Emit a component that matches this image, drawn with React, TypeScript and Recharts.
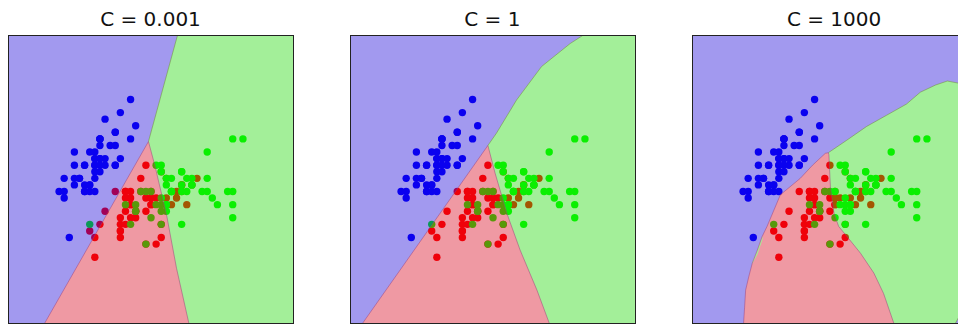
import { ScatterChart, Scatter, ComposedChart, Area, Line, XAxis, YAxis } from "recharts";

// iris: sepal length (x) vs sepal width (y)
const SETOSA = [
  [5.1, 3.5], [4.9, 3.0], [4.7, 3.2], [4.6, 3.1], [5.0, 3.6], [5.4, 3.9], [4.6, 3.4], [5.0, 3.4], [4.4, 2.9], [4.9, 3.1],
  [5.4, 3.7], [4.8, 3.4], [4.8, 3.0], [4.3, 3.0], [5.8, 4.0], [5.7, 4.4], [5.4, 3.9], [5.1, 3.5], [5.7, 3.8], [5.1, 3.8],
  [5.4, 3.4], [5.1, 3.7], [4.6, 3.6], [5.1, 3.3], [4.8, 3.4], [5.0, 3.0], [5.0, 3.4], [5.2, 3.5], [5.2, 3.4], [4.7, 3.2],
  [4.8, 3.1], [5.4, 3.4], [5.2, 4.1], [5.5, 4.2], [4.9, 3.1], [5.0, 3.2], [5.5, 3.5], [4.9, 3.6], [4.4, 3.0], [5.1, 3.4],
  [5.0, 3.5], [4.5, 2.3], [4.4, 3.2], [5.0, 3.5], [5.1, 3.8], [4.8, 3.0], [5.1, 3.8], [4.6, 3.2], [5.3, 3.7], [5.0, 3.3],
];
const VERSICOLOR = [
  [7.0, 3.2], [6.4, 3.2], [6.9, 3.1], [5.5, 2.3], [6.5, 2.8], [5.7, 2.8], [6.3, 3.3], [4.9, 2.4], [6.6, 2.9], [5.2, 2.7],
  [5.0, 2.0], [5.9, 3.0], [6.0, 2.2], [6.1, 2.9], [5.6, 2.9], [6.7, 3.1], [5.6, 3.0], [5.8, 2.7], [6.2, 2.2], [5.6, 2.5],
  [5.9, 3.2], [6.1, 2.8], [6.3, 2.5], [6.1, 2.8], [6.4, 2.9], [6.6, 3.0], [6.8, 2.8], [6.7, 3.0], [6.0, 2.9], [5.7, 2.6],
  [5.5, 2.4], [5.5, 2.4], [5.8, 2.7], [6.0, 2.7], [5.4, 3.0], [6.0, 3.4], [6.7, 3.1], [6.3, 2.3], [5.6, 3.0], [5.5, 2.5],
  [5.5, 2.6], [6.1, 3.0], [5.8, 2.6], [5.0, 2.3], [5.6, 2.7], [5.7, 3.0], [5.7, 2.9], [6.2, 2.9], [5.1, 2.5], [5.7, 2.8],
];
const VIRGINICA = [
  [6.3, 3.3], [5.8, 2.7], [7.1, 3.0], [6.3, 2.9], [6.5, 3.0], [7.6, 3.0], [4.9, 2.5], [7.3, 2.9], [6.7, 2.5], [7.2, 3.6],
  [6.5, 3.2], [6.4, 2.7], [6.8, 3.0], [5.7, 2.5], [5.8, 2.8], [6.4, 3.2], [6.5, 3.0], [7.7, 3.8], [7.7, 2.6], [6.0, 2.2],
  [6.9, 3.2], [5.6, 2.8], [7.7, 2.8], [6.3, 2.7], [6.7, 3.3], [7.2, 3.2], [6.2, 2.8], [6.1, 3.0], [6.4, 2.8], [7.2, 3.0],
  [7.4, 2.8], [7.9, 3.8], [6.4, 2.8], [6.3, 2.8], [6.1, 2.6], [7.7, 3.0], [6.3, 3.4], [6.4, 3.1], [6.0, 3.0], [6.9, 3.1],
  [6.7, 3.1], [6.9, 3.1], [5.8, 2.7], [6.8, 3.2], [6.7, 3.3], [6.7, 3.0], [6.3, 2.5], [6.5, 3.0], [6.2, 3.4], [5.9, 3.0],
];

const TITLES = ["C = 0.001", "C = 1", "C = 1000"];

const X_RANGE = [3.3, 8.88];
const Y_RANGE = [1.0, 5.38];

// decision boundaries, [x, y] in data units
// greenTop: upper edge of the green region, redTop: upper edge of the red region
const P1_GREEN_TOP = [[6.05, 3.76], [6.62, 5.38], [8.88, 5.38]];
const P1_RED_TOP = [[4.02, 1.0], [6.05, 3.76], [6.18, 3.38], [6.41, 2.62], [6.6, 1.83], [6.84, 1.0]];

const P2_GREEN_TOP = [[6.0, 3.7], [6.17, 3.89], [6.56, 4.39], [7.05, 4.9], [7.61, 5.25], [7.87, 5.38], [8.88, 5.38]];
const P2_RED_TOP = [[3.55, 1.0], [6.0, 3.7], [6.14, 3.28], [6.37, 2.67], [6.63, 2.11], [6.96, 1.5], [7.2, 1.0]];

const P3_GREEN_TOP = [
  [5.97, 3.59], [6.33, 3.78], [6.72, 3.99], [7.11, 4.16], [7.5, 4.33], [7.77, 4.51],
  [8.07, 4.62], [8.3, 4.68], [8.5, 4.65], [8.67, 4.56], [8.88, 4.45],
];
const P3_RED_TOP = [
  [4.31, 1.0], [4.33, 1.24], [4.35, 1.5], [4.41, 1.7], [4.48, 1.91], [4.58, 2.11], [4.67, 2.31], [4.77, 2.47],
  [5.03, 2.95], [5.42, 3.2], [5.66, 3.4], [5.91, 3.58], [5.97, 3.59], [5.98, 3.56], [6.01, 3.07], [6.08, 2.67],
  [6.17, 2.47], [6.34, 2.31], [6.6, 2.06], [6.86, 1.76], [7.05, 1.45], [7.25, 1.0],
];
const P3_BLUE_LOW = [[8.46, 1.0], [8.67, 1.3], [8.88, 1.6]];
const P3_GREEN_SLIVER = [[4.48, 1.9, 1.92], [4.58, 2.04, 2.11], [4.68, 2.27, 2.32]];

const W = 285;
const H = 288;
const PANEL_LEFT = [0, 341.8, 683.6];
const REGION_ALPHA = 0.4;

const toXY = (pts: number[][]) => pts.map(([x, y]) => ({ x, y }));
const toRange = (pts: number[][]) => pts.map(([x, lo, hi]) => ({ x, lo, hi }));

const PANELS = [
  { greenTop: P1_GREEN_TOP, redTop: P1_RED_TOP, blueLow: [], sliver: [] },
  { greenTop: P2_GREEN_TOP, redTop: P2_RED_TOP, blueLow: [], sliver: [] },
  { greenTop: P3_GREEN_TOP, redTop: P3_RED_TOP, blueLow: P3_BLUE_LOW, sliver: P3_GREEN_SLIVER },
];

const dot = (color: string) => (props: any) => <circle cx={props.cx} cy={props.cy} r={3.7} fill={color} />;

const noMargin = { top: 0, right: 0, bottom: 0, left: 0 };

function Axes() {
  return [
    <XAxis key="x" type="number" dataKey="x" domain={X_RANGE} hide allowDataOverflow />,
    <YAxis key="y" type="number" dataKey="y" domain={Y_RANGE} hide allowDataOverflow />,
  ];
}

function Panel({ idx }: { idx: number }) {
  const p = PANELS[idx];
  return (
    <div style={{ position: "absolute", left: PANEL_LEFT[idx], top: 0, width: W + 1, height: 317 }}>
      <div
        style={{
          position: "absolute", left: -40, width: W + 80, top: -1.4, textAlign: "center",
          font: "20px 'DejaVu Sans'", lineHeight: "24px", color: "#111",
        }}
      >
        {TITLES[idx]}
      </div>
      <div style={{ position: "absolute", left: 0, top: 27 }}>
        <ScatterChart width={W} height={H} margin={noMargin}>
          {Axes()}
          <Scatter data={toXY(SETOSA)} shape={dot("#0000ff")} isAnimationActive={false} />
          <Scatter data={toXY(VERSICOLOR)} shape={dot("#ff0000")} isAnimationActive={false} />
          <Scatter data={toXY(VIRGINICA)} shape={dot("#00ff00")} isAnimationActive={false} />
        </ScatterChart>
      </div>
      <div style={{ position: "absolute", left: 0, top: 27, opacity: REGION_ALPHA }}>
        <ComposedChart width={W} height={H} margin={noMargin}>
          {Axes()}
          <Area data={toXY([[X_RANGE[0], Y_RANGE[1]], [X_RANGE[1], Y_RANGE[1]]])} dataKey="y" type="linear"
            baseValue="dataMin" fill="#1903d9" fillOpacity={1} stroke="none" isAnimationActive={false} />
          <Area data={toXY(p.greenTop)} dataKey="y" type="linear" baseValue="dataMin"
            fill="#1bd903" fillOpacity={1} stroke="none" isAnimationActive={false} />
          <Area data={toXY(p.redTop)} dataKey="y" type="linear" baseValue="dataMin"
            fill="#d9031b" fillOpacity={1} stroke="none" isAnimationActive={false} />
          {p.blueLow.length > 0 && (
            <Area data={toXY(p.blueLow)} dataKey="y" type="linear" baseValue="dataMin"
              fill="#1903d9" fillOpacity={1} stroke="none" isAnimationActive={false} />
          )}
          {p.sliver.length > 0 && (
            <Area data={toRange(p.sliver)} dataKey={(d: any) => [d.lo, d.hi]} type="linear"
              fill="#1bd903" fillOpacity={1} stroke="none" isAnimationActive={false} />
          )}
        </ComposedChart>
      </div>
      {/* thin edge lines along the region boundaries */}
      <div style={{ position: "absolute", left: 0, top: 27 }}>
        <ComposedChart width={W} height={H} margin={noMargin}>
          {Axes()}
          <Line data={toXY(p.greenTop)} dataKey="y" type="linear" dot={false} stroke="#6f8a2a"
            strokeWidth={0.9} strokeOpacity={0.55} isAnimationActive={false} />
          <Line data={toXY(p.redTop)} dataKey="y" type="linear" dot={false} stroke="#9a3f7a"
            strokeWidth={0.9} strokeOpacity={0.55} isAnimationActive={false} />
          {p.blueLow.length > 0 && (
            <Line data={toXY(p.blueLow)} dataKey="y" type="linear" dot={false} stroke="#6f8a2a"
              strokeWidth={0.9} strokeOpacity={0.55} isAnimationActive={false} />
          )}
        </ComposedChart>
      </div>
      <div
        style={{
          position: "absolute", left: 0, top: 27, width: W + 1, height: H + 1,
          boxSizing: "border-box", border: "1px solid #222",
        }}
      />
    </div>
  );
}

export default function App() {
  return (
    <div style={{ position: "relative", width: 958, height: 317, overflow: "hidden" }}>
      {TITLES.map((_, i) => (
        <Panel key={i} idx={i} />
      ))}
    </div>
  );
}
